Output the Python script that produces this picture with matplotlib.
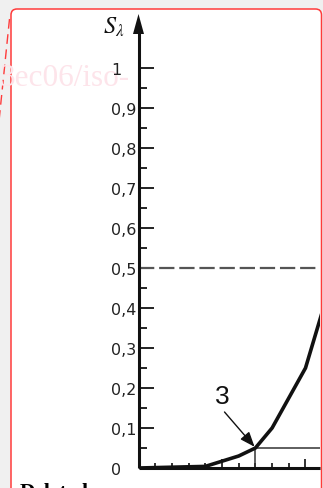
import matplotlib
matplotlib.use("Agg")
import matplotlib.pyplot as plt
from matplotlib.patches import FancyBboxPatch, Polygon
from matplotlib.ticker import FixedLocator

plt.rcParams["lines.scale_dashes"] = False

# ── data ─────────────────────────────────────────────────────────────────
curve_x = [0, 4, 6, 7, 8, 10, 11]
curve_y = [0, 0.004, 0.03, 0.05, 0.10, 0.25, 0.39]
y_major = [0, 0.1, 0.2, 0.3, 0.4, 0.5, 0.6, 0.7, 0.8, 0.9, 1.0]
y_labels = ["0", "0,1", "0,2", "0,3", "0,4", "0,5", "0,6", "0,7", "0,8", "0,9", "1"]
y_minor = [0.05, 0.15, 0.25, 0.35, 0.45, 0.55, 0.65, 0.75, 0.85, 0.95]
x_major = [5, 10]
x_minor = [1, 2, 3, 4, 6, 7, 8, 9]
half_level = 0.5
marker_x = 7
marker_y = 0.05

W, H = 323, 489
fig = plt.figure(figsize=(W / 100, H / 100), dpi=100)
fig.patch.set_facecolor("#f0f0f0")

# ── page background (pixel coords) ───────────────────────────────────────
bg = fig.add_axes([0, 0, 1, 1])
bg.set_xlim(0, W)
bg.set_ylim(H, 0)
bg.axis("off")
bg.set_facecolor("none")

page = FancyBboxPatch((11, 10), 310.5, 520,
                      boxstyle="round,pad=0,rounding_size=6",
                      fc="white", ec="#ff3b3b", lw=1.1, zorder=1)
bg.add_patch(page)

# dashed red connector on the left
bg.plot([9.5, -1], [20, 122], color="#ff3b3b", lw=1.0,
        linestyle=(0, (7, 4)), zorder=2)

# watermark
bg.text(-1, 86, "3ec06/iso-", fontsize=22.5, family="Liberation Serif",
        color="#fde4ea", ha="left", va="baseline", zorder=2)

# "Deleted" at page bottom (cut off)
bg.text(20, 498, "Deleted", fontsize=15.5, family="Liberation Serif",
        fontweight="bold", color="black", ha="left", va="baseline", zorder=3)

# y-axis arrowhead and label
bg.add_patch(Polygon([(138.5, 15), (133, 35), (144, 35)], closed=True,
                     fc="#111111", ec="none", zorder=5))
bg.text(103, 33.5, r"$S_{\lambda}$", fontsize=17.5, color="#111111",
        ha="left", va="baseline", zorder=5,
        math_fontfamily="stix")

# ── chart axes ───────────────────────────────────────────────────────────
px_x0, px_x1 = 138.5, 320.5
px_y0, px_top = 469, 30
dx = 16.7      # pixels per x unit
dy = 400.0     # pixels per y unit
ax = fig.add_axes([px_x0 / W, (H - px_y0) / H,
                   (px_x1 - px_x0) / W, (px_y0 - px_top) / H])
ax.set_xlim(0, (px_x1 - px_x0) / dx)
ax.set_ylim(0, (px_y0 - px_top) / dy)
ax.set_facecolor("none")
for s in ("top", "right"):
    ax.spines[s].set_visible(False)
for s in ("left", "bottom"):
    ax.spines[s].set_linewidth(2.2)
    ax.spines[s].set_color("#111111")
    ax.spines[s].set_capstyle("butt")

ax.yaxis.set_major_locator(FixedLocator(y_major))
ax.yaxis.set_minor_locator(FixedLocator(y_minor))
ax.set_yticklabels(y_labels)
ax.xaxis.set_major_locator(FixedLocator(x_major))
ax.xaxis.set_minor_locator(FixedLocator(x_minor))
ax.set_xticklabels([])

ax.tick_params(axis="y", which="major", direction="in", length=10.5,
               width=1.4, color="#222222", pad=19.5,
               labelsize=11.5, labelcolor="#222222")
ax.tick_params(axis="y", which="minor", direction="in", length=5.8,
               width=1.4, color="#222222")
ax.tick_params(axis="x", which="major", direction="in", length=6.5,
               width=1.3, color="#222222")
ax.tick_params(axis="x", which="minor", direction="in", length=3.6,
               width=1.3, color="#222222")
for t in ax.get_yticklabels():
    t.set_family(["Liberation Sans Narrow", "DejaVu Sans"])
    t.set_horizontalalignment("left")

# dashed 0.5 line
ax.axhline(half_level, xmin=0, xmax=1, color="#555555", lw=1.6,
           linestyle=(0, (11, 3.5)), zorder=2)

# 0.05 reference lines
ax.plot([marker_x, ax.get_xlim()[1]], [marker_y, marker_y],
        color="#333333", lw=1.1, zorder=2)
ax.plot([marker_x, marker_x], [0, marker_y], color="#333333", lw=1.1, zorder=2)

# curve
ax.plot(curve_x, curve_y, color="#111111", lw=2.6, solid_joinstyle="round",
        zorder=4)

# annotation "3"
ax.annotate("", xy=(marker_x - 0.05, marker_y + 0.003),
            xytext=(marker_x - 1.85, marker_y + 0.09),
            arrowprops=dict(arrowstyle="-|>,head_length=0.9,head_width=0.35",
                            color="#111111", lw=1.0, shrinkA=0, shrinkB=0),
            zorder=5)
ax.text(marker_x - 2.0, marker_y + 0.1, "3", fontsize=19,
        family="Liberation Sans", color="#111111", ha="center",
        va="bottom", zorder=5)

fig.savefig("out.png", dpi=100, facecolor=fig.get_facecolor())
